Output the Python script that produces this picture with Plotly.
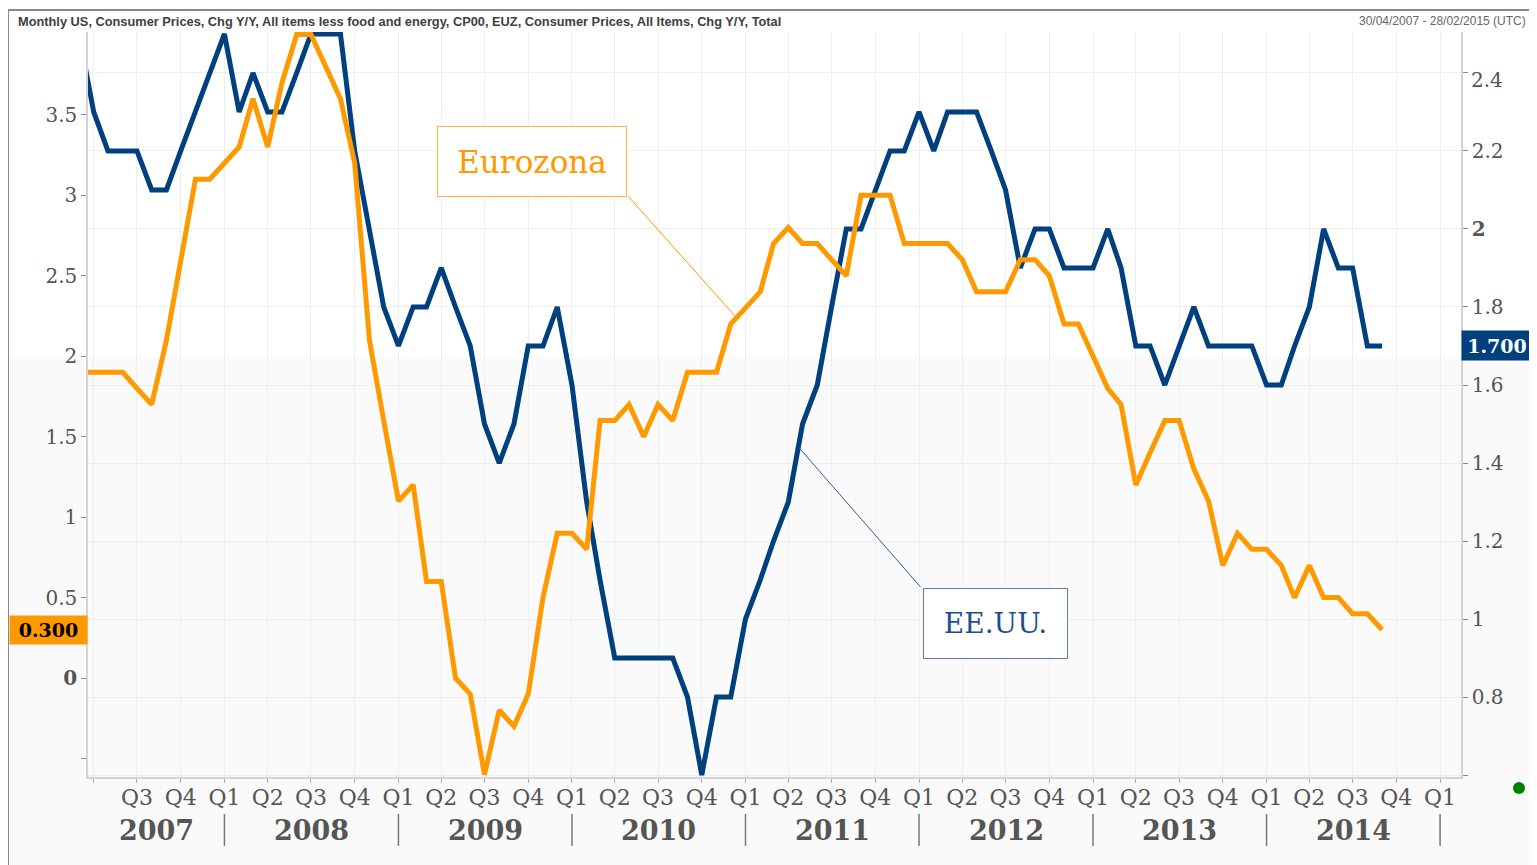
import pandas as pd
import plotly.graph_objects as go

# ---------------- data (monthly, Mar 2007 -> Sep 2014) ----------------
start_month = "2007-03-01"
eurozone_cpi = [
    1.9, 1.9, 1.9, 1.9, 1.8, 1.7, 2.1, 2.6, 3.1, 3.1,                 # 2007 Mar-Dec
    3.2, 3.3, 3.6, 3.3, 3.7, 4.0, 4.0, 3.8, 3.6, 3.2, 2.1, 1.6,       # 2008
    1.1, 1.2, 0.6, 0.6, 0.0, -0.1, -0.6, -0.2, -0.3, -0.1, 0.5, 0.9,  # 2009
    0.9, 0.8, 1.6, 1.6, 1.7, 1.5, 1.7, 1.6, 1.9, 1.9, 1.9, 2.2,       # 2010
    2.3, 2.4, 2.7, 2.8, 2.7, 2.7, 2.6, 2.5, 3.0, 3.0, 3.0, 2.7,       # 2011
    2.7, 2.7, 2.7, 2.6, 2.4, 2.4, 2.4, 2.6, 2.6, 2.5, 2.2, 2.2,       # 2012
    2.0, 1.8, 1.7, 1.2, 1.4, 1.6, 1.6, 1.3, 1.1, 0.7, 0.9, 0.8,       # 2013
    0.8, 0.7, 0.5, 0.7, 0.5, 0.5, 0.4, 0.4, 0.3,                      # 2014 Jan-Sep
]
us_core_cpi = [
    2.5, 2.3, 2.2, 2.2, 2.2, 2.1, 2.1, 2.2, 2.3, 2.4,                 # 2007 Mar-Dec
    2.5, 2.3, 2.4, 2.3, 2.3, 2.4, 2.5, 2.5, 2.5, 2.2, 2.0, 1.8,       # 2008
    1.7, 1.8, 1.8, 1.9, 1.8, 1.7, 1.5, 1.4, 1.5, 1.7, 1.7, 1.8,       # 2009
    1.6, 1.3, 1.1, 0.9, 0.9, 0.9, 0.9, 0.9, 0.8, 0.6, 0.8, 0.8,       # 2010
    1.0, 1.1, 1.2, 1.3, 1.5, 1.6, 1.8, 2.0, 2.0, 2.1, 2.2, 2.2,       # 2011
    2.3, 2.2, 2.3, 2.3, 2.3, 2.2, 2.1, 1.9, 2.0, 2.0, 1.9, 1.9,       # 2012
    1.9, 2.0, 1.9, 1.7, 1.7, 1.6, 1.7, 1.8, 1.7, 1.7, 1.7, 1.7,       # 2013
    1.6, 1.6, 1.7, 1.8, 2.0, 1.9, 1.9, 1.7, 1.7,                      # 2014 Jan-Sep
]
dates = pd.date_range(start=start_month, periods=len(eurozone_cpi), freq="MS")

quarter_labels = ["", "Q3", "Q4"] + ["Q1", "Q2", "Q3", "Q4"] * 7 + ["Q1"]
quarter_ticks = pd.date_range(start="2007-04-01", periods=len(quarter_labels), freq="QS")
year_labels = ["2007", "2008", "2009", "2010", "2011", "2012", "2013", "2014"]

left_ticks = [-0.5, 0, 0.5, 1, 1.5, 2, 2.5, 3, 3.5]
left_ticktext = ["", "<b>0</b>", "0.5", "1", "1.5", "2", "2.5", "3", "3.5"]
right_ticks = [0.6, 0.8, 1.0, 1.2, 1.4, 1.6, 1.8, 2.0, 2.2, 2.4]
right_ticktext = ["", "0.8", "1", "1.2", "1.4", "1.6", "1.8", "<b>2</b>", "2.2", ""]
right_top_label = "2.4"      # drawn slightly below its tick, as in the original

title_text = ("Monthly US, Consumer Prices, Chg Y/Y, All items less food and energy, CP00, "
              "EUZ, Consumer Prices, All Items, Chg Y/Y, Total")
range_text = "30/04/2007 - 28/02/2015 (UTC)"

x_range = ["2007-03-20", "2015-02-14"]
left_range = [-0.615, 4.015]
right_range = [0.595, 2.505]

# ---------------- styling ----------------
ORANGE = "#FF9900"
NAVY = "#00407F"
SERIF = "DejaVu Serif"
OFF = 8                       # page body margin
W, H = 1537 - OFF, 865 - OFF
PL, PR, PT, PB = 88, 1461, 32, 777   # plot box in screen pixels
ML, MT = PL - OFF, PT - OFF
MR, MB = W - (PR - OFF), H - (PB - OFF)
PW, PH = PR - PL, PB - PT


def px_x(px):
    return (px - PL) / PW


def px_y(py):
    return (PB - py) / PH


fig = go.Figure()
fig.add_trace(go.Scatter(x=dates, y=us_core_cpi, yaxis="y", mode="lines",
                         line=dict(color=NAVY, width=5), name="EE.UU.",
                         hoverinfo="x+y"))
fig.add_trace(go.Scatter(x=dates, y=eurozone_cpi, yaxis="y2", mode="lines",
                         line=dict(color=ORANGE, width=5), name="Eurozona",
                         hoverinfo="x+y"))

tickfont = dict(family=SERIF, size=20, color="#555555")

fig.update_layout(
    width=W, height=H, autosize=False,
    margin=dict(l=ML, r=MR, t=MT, b=MB),
    paper_bgcolor="white", plot_bgcolor="rgba(0,0,0,0)",
    showlegend=False,
    xaxis=dict(type="date", range=x_range, tickvals=quarter_ticks, ticktext=quarter_labels,
               showgrid=True, gridcolor="#efefef", gridwidth=1,
               ticks="outside", ticklen=4, tickcolor="#aaaaaa", ticklabelstandoff=-4,
               showline=True, linecolor="#d4d4d4", linewidth=1.5,
               tickfont=dict(family=SERIF, size=22, color="#555555"), zeroline=False),
    yaxis=dict(side="right", range=right_range, tickvals=right_ticks, ticktext=right_ticktext,
               showgrid=True, gridcolor="#efefef", zeroline=False,
               ticks="outside", ticklen=5, tickcolor="#888888",
               showline=True, linecolor="#d4d4d4", linewidth=1.5, tickfont=tickfont),
    yaxis2=dict(side="left", overlaying="y", range=left_range, tickvals=left_ticks,
                ticktext=left_ticktext, showgrid=False, zeroline=False,
                ticks="outside", ticklen=5, tickcolor="#888888",
                showline=True, linecolor="#d4d4d4", linewidth=1.5, tickfont=tickfont),
)

shapes = []
# lower light-grey band of the background
shapes.append(dict(type="rect", xref="paper", yref="paper", x0=px_x(0), x1=px_x(1537),
                   y0=px_y(870), y1=px_y(357), fillcolor="#fafafa", line=dict(width=0),
                   layer="below"))
# outer frame (left + top)
shapes.append(dict(type="line", xref="paper", yref="paper", x0=px_x(8), x1=px_x(8),
                   y0=px_y(10), y1=px_y(870), line=dict(color="#888888", width=2)))
shapes.append(dict(type="line", xref="paper", yref="paper", x0=px_x(8), x1=px_x(1531),
                   y0=px_y(10), y1=px_y(10), line=dict(color="#888888", width=2)))
# year separators
for y in year_labels[1:] + ["2015"]:
    shapes.append(dict(type="line", xref="x", yref="paper", x0=f"{y}-01-01", x1=f"{y}-01-01",
                       y0=px_y(814), y1=px_y(846), line=dict(color="#777777", width=1.5)))
# green status dot
shapes.append(dict(type="circle", xref="paper", yref="paper",
                   x0=px_x(1513), x1=px_x(1525), y0=px_y(782), y1=px_y(794),
                   fillcolor="#008000", line=dict(width=0)))
fig.update_layout(shapes=shapes)

ann = []
# title + date range
ann.append(dict(xref="paper", yref="paper", x=px_x(16), y=px_y(21), xanchor="left",
                yanchor="middle", showarrow=False, text=f"<b>{title_text}</b>",
                font=dict(family="Liberation Sans", size=12.8, color="#404040")))
ann.append(dict(xref="paper", yref="paper", x=px_x(1528), y=px_y(21), xanchor="right",
                yanchor="middle", showarrow=False, text=range_text,
                font=dict(family="Liberation Sans", size=12, color="#666666")))
# top right-axis label, nudged down
ann.append(dict(xref="paper", yref="y", x=1, y=right_ticks[-1], xanchor="left",
                yanchor="middle", xshift=8, yshift=-7, showarrow=False, text=right_top_label,
                font=tickfont))
# year labels
xr0 = pd.Timestamp(x_range[0])
for y in year_labels:
    y0 = max(pd.Timestamp(f"{y}-01-01"), xr0)
    y1 = pd.Timestamp(f"{int(y) + 1}-01-01")
    mid = y0 + (y1 - y0) / 2
    ann.append(dict(xref="x", yref="paper", x=mid, y=px_y(830), xanchor="center",
                    yanchor="middle", showarrow=False, text=f"<b>{y}</b>",
                    font=dict(family=SERIF, size=27, color="#555555")))
# last-value badges
ann.append(dict(xref="paper", yref="y2", x=0, y=eurozone_cpi[-1], xanchor="right",
                yanchor="middle", showarrow=False, text=f"<b>{eurozone_cpi[-1]:.3f}</b>",
                bgcolor=ORANGE, width=73, height=24, borderpad=2,
                font=dict(family=SERIF, size=19, color="black")))
ann.append(dict(xref="paper", yref="y", x=1, y=us_core_cpi[-1], xanchor="left",
                yanchor="middle", showarrow=False, text=f"<b>{us_core_cpi[-1]:.3f}</b>",
                bgcolor=NAVY, width=66, height=25, borderpad=2,
                font=dict(family=SERIF, size=19, color="white")))
# series callouts
ann.append(dict(xref="paper", yref="paper", x=px_x(532), y=px_y(161.5), xanchor="center",
                yanchor="middle", showarrow=False, text="Eurozona",
                width=188, height=69, borderpad=0, borderwidth=1, bordercolor="#FFB347",
                bgcolor="white", font=dict(family=SERIF, size=31, color=ORANGE)))
ann.append(dict(xref="x", yref="y2", x="2010-12-10", y=2.25, ax=-108, ay=-121,
                text="", showarrow=True, arrowhead=0, arrowwidth=1, arrowcolor=ORANGE))
ann.append(dict(xref="paper", yref="paper", x=px_x(995.5), y=px_y(623.5), xanchor="center",
                yanchor="middle", showarrow=False, text="EE.UU.",
                width=143, height=69, borderpad=0, borderwidth=1, bordercolor="#5A7FA8",
                bgcolor="white", font=dict(family=SERIF, size=28, color="#1F4E8C")))
ann.append(dict(xref="x", yref="y", x="2011-04-23", y=1.44, ax=123, ay=141,
                text="", showarrow=True, arrowhead=0, arrowwidth=1, arrowcolor="#2F5F95"))
fig.update_layout(annotations=ann)

fig.write_html("out.html")
